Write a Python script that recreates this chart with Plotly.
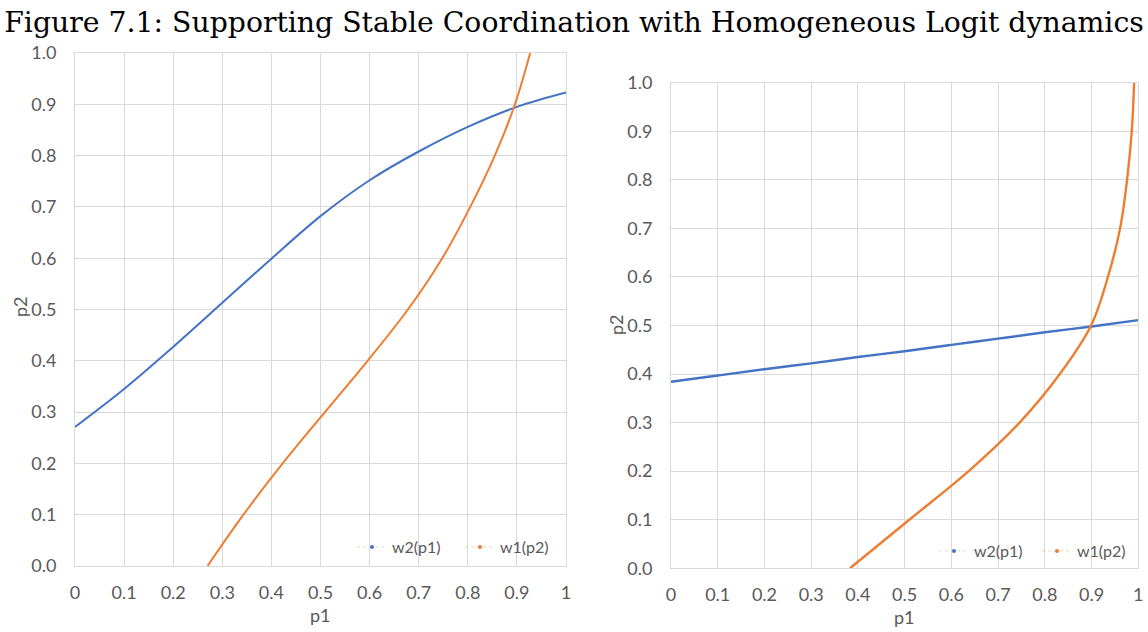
import plotly.graph_objects as go

# ---------------- data ----------------
grid = [0.0, 0.1, 0.2, 0.3, 0.4, 0.5, 0.6, 0.7, 0.8, 0.9, 1.0]

# Left panel
left_w2_p1 = [0.271, 0.345, 0.427, 0.513, 0.599, 0.682, 0.752, 0.808, 0.856, 0.895, 0.923]   # p2 as function of p1
left_w1_p2 = [0.270, 0.343, 0.423, 0.509, 0.596, 0.678, 0.748, 0.805, 0.855, 0.896, 0.927]   # p1 as function of p2

# Right panel
right_w2_p1 = [0.384, 0.397, 0.410, 0.422, 0.435, 0.447, 0.460, 0.473, 0.486, 0.498, 0.511]  # p2 as function of p1
right_w1_p2 = [0.383, 0.510, 0.637, 0.746, 0.832, 0.899, 0.935, 0.961, 0.976, 0.986, 0.991]  # p1 as function of p2

x_tick_vals = [0, 0.1, 0.2, 0.3, 0.4, 0.5, 0.6, 0.7, 0.8, 0.9, 1]
x_tick_text = ["0", "0.1", "0.2", "0.3", "0.4", "0.5", "0.6", "0.7", "0.8", "0.9", "1"]
y_tick_vals = [0, 0.1, 0.2, 0.3, 0.4, 0.5, 0.6, 0.7, 0.8, 0.9, 1.0]
y_tick_text = ["0.0", "0.1", "0.2", "0.3", "0.4", "0.5", "0.6", "0.7", "0.8", "0.9", "1.0"]

series_names = ["w2(p1)", "w1(p2)"]
title_text = "Figure 7.1: Supporting Stable Coordination with Homogeneous Logit dynamics"

BLUE = "#4472C4"
ORANGE = "#ED7D31"
GRID = "#D9D9D9"
TICK = "#595959"
TFONT = "Lato"

W, H = 1148, 632

fig = go.Figure()

def add_panel(xa, ya, w2, w1, legend, lw):
    fig.add_trace(go.Scatter(x=grid, y=w2, mode="lines", line=dict(color=BLUE, width=lw, shape="spline", smoothing=1.0),
                             xaxis=xa, yaxis=ya, showlegend=False, hoverinfo="skip"))
    fig.add_trace(go.Scatter(x=w1, y=grid, mode="lines", line=dict(color=ORANGE, width=lw, shape="spline", smoothing=1.0),
                             xaxis=xa, yaxis=ya, showlegend=False, hoverinfo="skip"))
    # legend entries
    fig.add_trace(go.Scatter(x=[None], y=[None], mode="lines+markers", name=series_names[0],
                             line=dict(color="rgba(180,200,150,0.5)", width=1, dash="dot"),
                             marker=dict(color=BLUE, size=4), xaxis=xa, yaxis=ya, legend=legend))
    fig.add_trace(go.Scatter(x=[None], y=[None], mode="lines+markers", name=series_names[1],
                             line=dict(color="rgba(237,125,49,0.35)", width=1, dash="dot"),
                             marker=dict(color=ORANGE, size=4), xaxis=xa, yaxis=ya, legend=legend))

add_panel("x", "y", left_w2_p1, left_w1_p2, "legend", 2.0)
add_panel("x2", "y2", right_w2_p1, right_w1_p2, "legend2", 2.4)

def xaxis(domain, anchor):
    return dict(domain=domain, anchor=anchor, range=[0, 1], tickvals=x_tick_vals, ticktext=x_tick_text,
                showgrid=True, gridcolor=GRID, gridwidth=1, zeroline=False, automargin=False,
                showline=True, linecolor=GRID, mirror=True, linewidth=1,
                ticks="outside", ticklen=10, tickcolor="rgba(0,0,0,0)",
                tickfont=dict(family=TFONT, size=18, color=TICK))

def yaxis(domain, anchor):
    return dict(domain=domain, anchor=anchor, range=[0, 1], tickvals=y_tick_vals, ticktext=y_tick_text,
                showgrid=True, gridcolor=GRID, gridwidth=1, zeroline=False, automargin=False,
                showline=True, linecolor=GRID, mirror=True, linewidth=1,
                ticks="outside", ticklen=14, tickcolor="rgba(0,0,0,0)",
                tickfont=dict(family=TFONT, size=18, color=TICK))

fig.update_layout(
    width=W, height=H,
    margin=dict(l=0, r=0, t=0, b=0, autoexpand=False),
    paper_bgcolor="white", plot_bgcolor="white",
    xaxis=xaxis([75 / W, 566 / W], "y"),
    yaxis=yaxis([1 - 566 / H, 1 - 53 / H], "x"),
    xaxis2=xaxis([671 / W, 1138.3 / W], "y2"),
    yaxis2=yaxis([1 - 568.3 / H, 1 - 82.7 / H], "x2"),
    title=dict(text=title_text, x=0.5, xanchor="center", y=1 - 22 / H, yanchor="middle", yref="container",
               font=dict(family="DejaVu Serif", size=28.3, color="black")),
    legend=dict(orientation="h", x=568 / W, xanchor="right", y=1 - 547 / H, yanchor="middle",
                entrywidth=63, entrywidthmode="pixels",
                bgcolor="rgba(0,0,0,0)", font=dict(family=TFONT, size=16, color=TICK)),
    legend2=dict(orientation="h", x=1140 / W, xanchor="right", y=1 - 551 / H, yanchor="middle",
                 entrywidth=58, entrywidthmode="pixels",
                 bgcolor="rgba(0,0,0,0)", font=dict(family=TFONT, size=16, color=TICK)),
    annotations=[
        dict(text="p1", x=320 / W, y=1 - 615 / H, xref="paper", yref="paper", showarrow=False,
             font=dict(family=TFONT, size=18, color=TICK), xanchor="center", yanchor="middle"),
        dict(text="p1", x=904 / W, y=1 - 617 / H, xref="paper", yref="paper", showarrow=False,
             font=dict(family=TFONT, size=18, color=TICK), xanchor="center", yanchor="middle"),
        dict(text="p2", x=20 / W, y=1 - 307 / H, xref="paper", yref="paper", showarrow=False, textangle=-90,
             font=dict(family=TFONT, size=18, color=TICK), xanchor="center", yanchor="middle"),
        dict(text="p2", x=616 / W, y=1 - 325 / H, xref="paper", yref="paper", showarrow=False, textangle=-90,
             font=dict(family=TFONT, size=18, color=TICK), xanchor="center", yanchor="middle"),
    ],
)

fig.write_html("out.html")
